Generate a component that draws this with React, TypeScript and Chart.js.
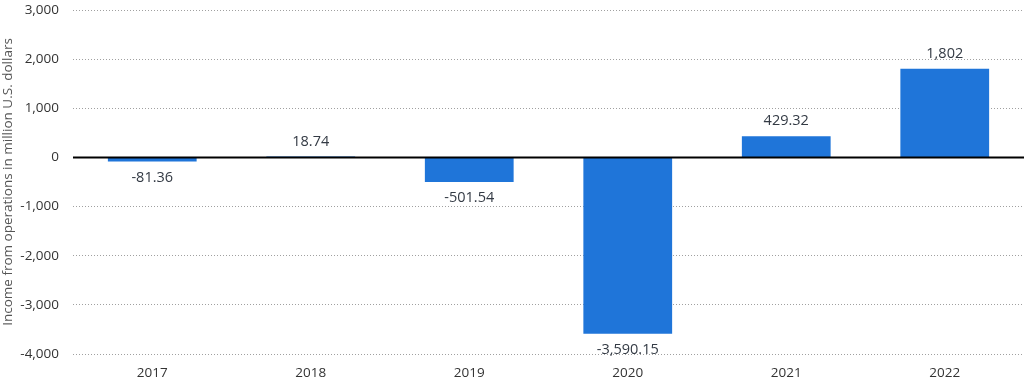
import React, { useEffect, useRef } from "react";
import { Chart, registerables } from "chart.js";

Chart.register(...registerables);

const categories = ["2017", "2018", "2019", "2020", "2021", "2022"];
const incomeValues = [-81.36, 18.74, -501.54, -3590.15, 429.32, 1802];
const yTicks = [-4000, -3000, -2000, -1000, 0, 1000, 2000, 3000];

const FONT = "'Open Sans', 'Noto Sans', sans-serif";

const valueLabels = {
  id: "valueLabels",
  afterDatasetsDraw(chart: any) {
    const ctx = chart.ctx;
    const meta = chart.getDatasetMeta(0);
    const data = chart.data.datasets[0].data as number[];
    ctx.save();
    ctx.font = `14.5px ${FONT}`;
    ctx.fillStyle = "#333a44";
    ctx.textAlign = "center";
    ctx.textBaseline = "middle";
    meta.data.forEach((bar: any, i: number) => {
      const v = data[i];
      const txt = v.toLocaleString("en-US", { maximumFractionDigits: 2 });
      const y = v >= 0 ? bar.y - 15 : bar.y + 16;
      ctx.fillText(txt, bar.x, y);
    });
    const ys = chart.scales.y;
    const y0 = Math.round(ys.getPixelForValue(0)) + 0.5;
    ctx.strokeStyle = "#000";
    ctx.lineWidth = 2;
    ctx.beginPath();
    ctx.moveTo(chart.chartArea.left, y0);
    ctx.lineTo(chart.chartArea.right, y0);
    ctx.stroke();
    ctx.restore();
  },
};

export default function App() {
  const ref = useRef<HTMLCanvasElement>(null);
  useEffect(() => {
    document.body.style.margin = "0";
    const chart = new Chart(ref.current!, {
      type: "bar",
      data: {
        labels: categories,
        datasets: [
          {
            data: incomeValues,
            backgroundColor: "#1f75d9",
            borderWidth: 0,
            categoryPercentage: 1,
            barPercentage: 0.56,
          },
        ],
      },
      options: {
        animation: false,
        responsive: false,
        maintainAspectRatio: false,
        layout: { autoPadding: false, padding: { top: 10, right: 0, bottom: 0, left: 0 } },
        plugins: {
          legend: { display: false },
          tooltip: { enabled: false },
        },
        scales: {
          x: {
            grid: { display: false, drawTicks: false },
            border: { display: false },
            ticks: {
              color: "#333333",
              font: { family: FONT, size: 13.5 },
              padding: 11,
            },
            afterFit(scale: any) {
              scale.height = 28;
            },
          },
          y: {
            min: -4000,
            max: 3000,
            afterBuildTicks(scale: any) {
              scale.ticks = yTicks.map((v) => ({ value: v }));
            },
            border: { display: false, dash: [1, 2] },
            grid: {
              drawTicks: false,
              color: (c: any) => (c.tick && c.tick.value === 0 ? "rgba(0,0,0,0)" : "#a0a0a0"),
              lineWidth: 1,
            },
            ticks: {
              color: "#333333",
              font: { family: FONT, size: 13.5 },
              padding: 14,
            },
            title: {
              display: true,
              text: "Income from operations in million U.S. dollars",
              color: "#555555",
              font: { family: FONT, size: 13.5 },
              padding: { top: 0, bottom: 0 },
            },
            afterFit(scale: any) {
              scale.width = 73;
              scale.paddingTop = 0;
              scale.paddingBottom = 0;
            },
          },
        },
      },
      plugins: [valueLabels],
    });
    return () => chart.destroy();
  }, []);
  return (
    <div style={{ position: "absolute", left: 0, top: 0, width: 1024, height: 382 }}>
      <canvas ref={ref} width={1024} height={382} style={{ width: 1024, height: 382 }} />
    </div>
  );
}
